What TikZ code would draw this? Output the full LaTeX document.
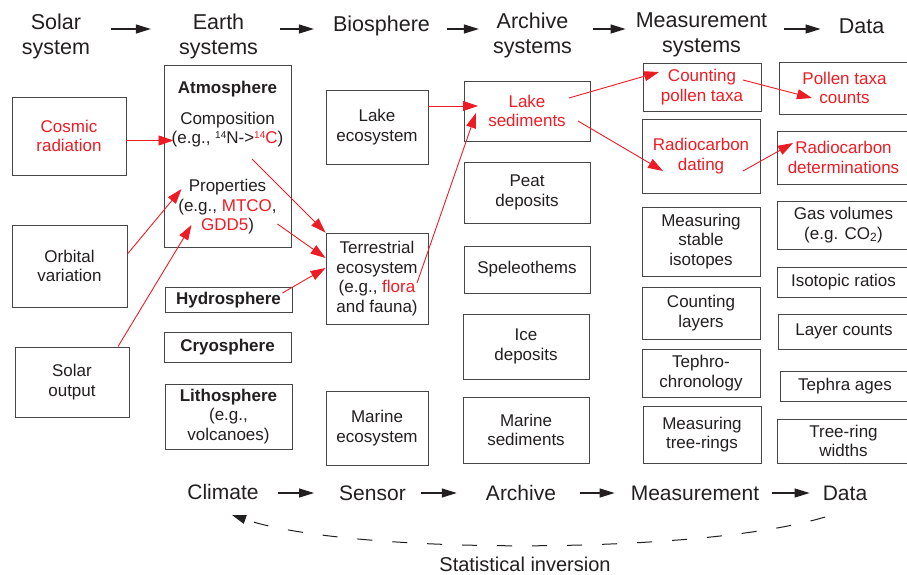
\documentclass[tikz,border=0pt]{standalone}
\usepackage{fontspec}
\setmainfont{Liberation Sans}
\usetikzlibrary{arrows.meta,calc}
\definecolor{figred}{RGB}{237,28,36}
\definecolor{boxgray}{RGB}{70,70,70}
\definecolor{txtgray}{RGB}{35,31,32}
\newcommand{\bodyfont}{\fontsize{17}{19.5}\selectfont}
\newcommand{\hdrfont}{\fontsize{21.5}{25}\selectfont}
\newcommand{\rd}[1]{\textcolor{figred}{#1}}
\newcommand{\iso}[1]{\raisebox{0.55ex}{\fontsize{10}{10}\selectfont #1}}
\tikzset{
  box/.style={draw=boxgray, line width=0.9pt, inner sep=0pt, align=center, font=\bodyfont, text=txtgray},
  plaintxt/.style={inner sep=0pt, align=center, font=\bodyfont, text=txtgray},
  hdr/.style={inner sep=0pt, align=center, font=\hdrfont, text=txtgray},
  redarrow/.style={draw=figred, line width=0.9pt, -{Triangle[length=15pt,width=10pt]}},
  flowarrow/.style={draw=txtgray, line width=1.1pt, -{Triangle[length=15pt,width=9pt]}},
  invarrow/.style={draw=txtgray, line width=1pt, dash pattern=on 15pt off 20pt, -{Triangle[length=14pt,width=9pt]}}
}
\begin{document}
\begin{tikzpicture}[x=1pt,y=-1pt]
    \useasboundingbox (0,0) rectangle (907,575);
    \clip (0,0) rectangle (907,575);

    % Column headers
    \node[hdr] (hsolar) at (56,36.5) {Solar\\system};
    \node[hdr] (hearth) at (218.5,36.5) {Earth\\systems};
    \node[hdr] (hbio) at (381.5,26) {Biosphere};
    \node[hdr] (harch) at (532.5,35) {Archive\\systems};
    \node[hdr] (hmeas) at (701.5,35) {Measurement\\systems};
    \node[hdr] (hdata) at (861.5,26) {Data};
    \coordinate (hy) at (0,29);
    \foreach \a/\b/\s/\t in {hsolar/hearth/21/28, hearth/hbio/22/19, hbio/harch/17/14, harch/hmeas/21/10, hmeas/hdata/17/18} {
        \draw[flowarrow, shorten <=\s pt, shorten >=\t pt] (\a.east |- hy) -- (\b.west |- hy);
    };

    % Boxes
    \foreach \name/\x/\y/\w/\h/\txt in {
        cosmic/69/136/114/78/{\rd{Cosmic}\\\rd{radiation}},
        orbital/69.5/266/115/82/{Orbital\\variation},
        solarout/72/382/114/70/{Solar\\output},
        hydro/228.5/300/127/25/{\textbf{Hydrosphere}},
        cryo/227.5/347/127/30/{\textbf{Cryosphere}},
        litho/228.5/416.5/127/65/{\textbf{Lithosphere}\\(e.g.,\\volcanoes)},
        lakeeco/377/127/102/74/{Lake\\ecosystem},
        terr/377/278.5/102/91/{Terrestrial\\ecosystem\\(e.g., \rd{flora}\\and fauna)},
        marineeco/377/428/102/74/{Marine\\ecosystem},
        lakesed/527/111/126/60/{\rd{Lake}\\\rd{sediments}},
        peat/527/192.5/126/61/{Peat\\deposits},
        speleo/527/269.5/126/47/{Speleothems},
        ice/526/346.5/126/65/{Ice\\deposits},
        marinesed/526/430/126/66/{Marine\\sediments},
        countpollen/702/87/118/48/{\rd{Counting}\\\rd{pollen taxa}},
        radiodating/701/156/118/74/{\rd{Radiocarbon}\\\rd{dating}},
        stableiso/701/241.5/118/69/{Measuring\\stable\\isotopes},
        countlayers/701/313/118/52/{Counting\\layers},
        tephro/701/373/118/48/{Tephro-\\chronology},
        treering/702/434.5/118/57/{Measuring\\tree-rings},
        pollencounts/844.5/88/131/52/{\rd{Pollen taxa}\\\rd{counts}},
        radiodet/843.5/157.5/133/53/{\rd{Radiocarbon}\\\rd{determinations}},
        gas/843.5/225/133/48/{Gas volumes\\(e.g. CO\textsubscript{2})},
        isoratios/843.5/282/133/30/{Isotopic ratios},
        layercounts/844/331.5/132/35/{Layer counts},
        tephraages/845/386/130/30/{Tephra ages},
        treewidths/843.5/441/133/44/{Tree-ring\\widths}} {
        \node[box, minimum width=\w pt, minimum height=\h pt] (\name) at (\x,\y) {\txt};
    };

    % Atmosphere box and its contents
    \node[box, minimum width=127pt, minimum height=182pt] (atmos) at (227.5,156) {};
    \node[plaintxt, font=\bodyfont\bfseries] (atmtitle) at (227.5,89) {Atmosphere};
    \node[plaintxt] (comp) at (227.5,129.5) {Composition\\(e.g., \iso{14}N->\rd{\iso{14}C})};
    \node[plaintxt] (prop) at (227.5,207) {Properties\\(e.g., \rd{MTCO},\\\rd{GDD5})};

    % Red links
    \coordinate (comptip) at ($(comp.center)+(-54,11)$);
    \coordinate (sedtip) at ($(lakesed.center)+(-49,-5)$);
    \draw[redarrow] (cosmic.east |- comptip) -- (comptip);
    \draw[redarrow] ($(orbital.east)+(0,-12)$) -- ($(prop.center)+(-46,-18)$);
    \draw[redarrow] ($(solarout.north)+(46,0)$) -- ($(prop.center)+(-36,18)$);
    \draw[redarrow] ($(comp.center)+(24.5,29.5)$) -- (terr.north west);
    \draw[redarrow] ($(prop.center)+(50,17)$) -- ($(terr.west)+(0,-20.5)$);
    \draw[redarrow] ($(hydro.east)+(-10,-7)$) -- ($(terr.west)+(0,-10.5)$);
    \draw[redarrow] ($(terr.center)+(40,4.5)$) -- ($(lakesed.center)+(-51,2)$);
    \draw[redarrow] (lakeeco.east |- sedtip) -- (sedtip);
    \draw[redarrow] ($(lakesed.center)+(42,-13)$) -- ($(countpollen.center)+(-43,-15)$);
    \draw[redarrow] ($(lakesed.center)+(51,10)$) -- ($(radiodating.center)+(-38,15)$);
    \draw[redarrow] ($(countpollen.center)+(41,-7)$) -- ($(pollencounts.center)+(-32.5,10)$);
    \draw[redarrow] ($(radiodating.center)+(42,15)$) -- ($(radiodet.center)+(-50.5,-14.5)$);

    % Bottom chain
    \node[hdr, font=\fontsize{21}{25}\selectfont] (climate) at (223,492) {Climate};
    \node[hdr, font=\fontsize{21}{25}\selectfont] (sensor) at (372.5,493) {Sensor};
    \node[hdr, font=\fontsize{21}{25}\selectfont] (archive) at (521,493) {Archive};
    \node[hdr, font=\fontsize{21}{25}\selectfont] (measurement) at (695,493) {Measurement};
    \node[hdr, font=\fontsize{21}{25}\selectfont] (data) at (845,493) {Data};
    \foreach \a/\b/\s/\t in {climate/sensor/19/25, sensor/archive/15/29, archive/measurement/24/16, measurement/data/13/13} {
        \draw[flowarrow, shorten <=\s pt, shorten >=\t pt] (\a.east |- sensor) -- (\b.west |- sensor);
    };

    % Inversion back to climate
    \coordinate (invfrom) at ($(data.center)+(-20,24)$);
    \coordinate (invto) at ($(climate.center)+(9,23)$);
    \draw[invarrow] (invfrom) .. controls ($(invfrom)+(-125,38)$) and ($(invto)+(118,40)$) .. (invto);
    \node[hdr, font=\fontsize{20}{24}\selectfont] (inversion) at (525,564) {Statistical inversion};
\end{tikzpicture}
\end{document}
